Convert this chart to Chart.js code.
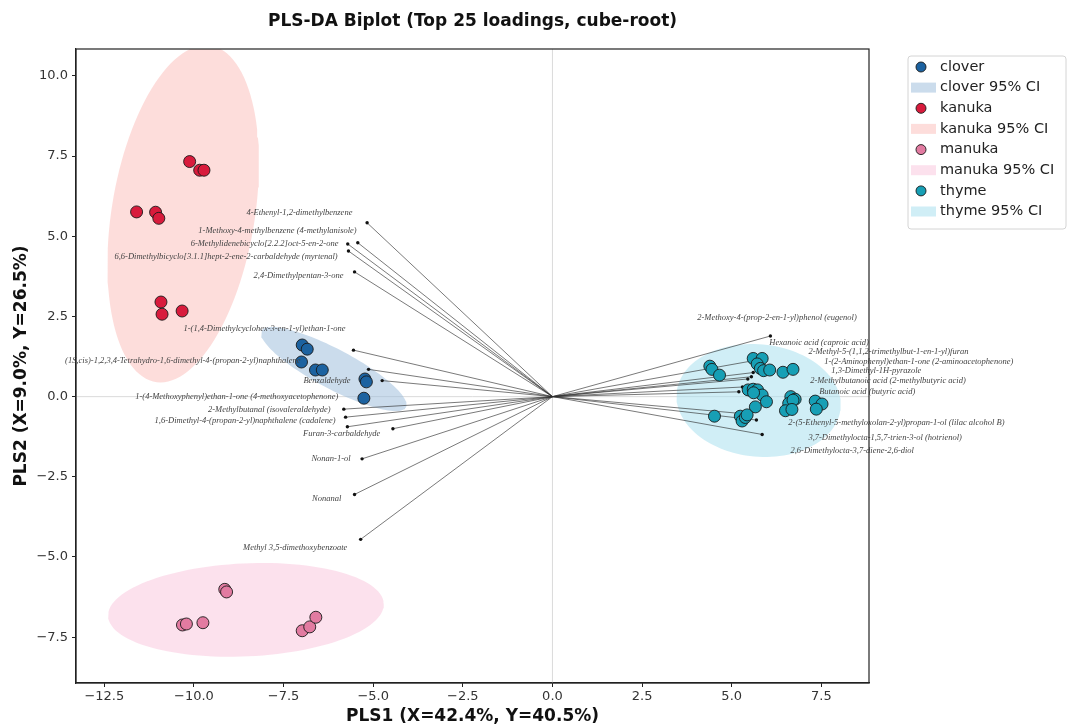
<!DOCTYPE html>
<html>
<head>
<meta charset="utf-8">
<script src="https://cdn.jsdelivr.net/npm/chart.js@4.4.1/dist/chart.umd.min.js"></script>
<style>
  html, body { margin: 0; padding: 0; background: #fff; }
  #wrap { width: 1071px; height: 728px; }
</style>
</head>
<body>
<div id="wrap"><canvas id="chart" width="1071" height="728"></canvas></div>
<script>
// sample scores (PLS1, PLS2)
const groups = ['clover', 'kanuka', 'manuka', 'thyme'];
const cloverX = [-6.98, -6.84, -7.00, -6.61, -6.42, -5.23, -5.19, -5.26];
const cloverY = [1.61, 1.48, 1.08, 0.83, 0.83, 0.55, 0.46, -0.05];
const kanukaX = [-10.12, -9.84, -9.72, -11.60, -11.07, -10.98, -10.92, -10.89, -10.33];
const kanukaY = [7.33, 7.06, 7.06, 5.76, 5.75, 5.56, 2.95, 2.57, 2.67];
const manukaX = [-9.14, -9.09, -10.32, -10.21, -9.75, -6.98, -6.77, -6.60];
const manukaY = [-6.01, -6.09, -7.12, -7.09, -7.05, -7.30, -7.18, -6.88];
const thymeX = [4.39, 4.45, 4.66, 5.60, 5.85, 5.71, 5.80, 5.89, 6.06, 6.43, 6.71, 5.46, 5.60, 5.72, 5.85, 5.97,
  5.61, 5.66, 6.65, 6.77, 6.59, 6.71, 6.50, 6.68, 7.33, 7.52, 7.36, 4.52, 5.24, 5.29, 5.38, 5.43];
const thymeY = [0.95, 0.85, 0.67, 1.19, 1.19, 1.02, 0.88, 0.81, 0.83, 0.76, 0.85, 0.21, 0.23, 0.21, 0.05, -0.16,
  0.12, -0.32, 0.00, -0.08, -0.21, -0.11, -0.44, -0.40, -0.14, -0.23, -0.39, -0.61, -0.61, -0.76, -0.65, -0.57];

// 95% CI ellipses (center, semi axes, angle in degrees) per group
const ellipseCX = [-6.10, -10.30, -8.55, 5.75];
const ellipseCY = [0.86, 5.70, -6.65, -0.12];
const ellipseA = [2.34, 5.30, 3.85, 2.30];
const ellipseB = [0.60, 2.00, 1.45, 1.75];
const ellipseAngle = [-31, 82, 3, -8];

// top 25 loadings (cube-root scaled)
const loadingNames = [
  '4-Ethenyl-1,2-dimethylbenzene',
  '1-Methoxy-4-methylbenzene (4-methylanisole)',
  '6-Methylidenebicyclo[2.2.2]oct-5-en-2-one',
  '6,6-Dimethylbicyclo[3.1.1]hept-2-ene-2-carbaldehyde (myrtenal)',
  '2,4-Dimethylpentan-3-one',
  '1-(1,4-Dimethylcyclohex-3-en-1-yl)ethan-1-one',
  '(1S,cis)-1,2,3,4-Tetrahydro-1,6-dimethyl-4-(propan-2-yl)naphthalene',
  'Benzaldehyde',
  '1-(4-Methoxyphenyl)ethan-1-one (4-methoxyacetophenone)',
  '2-Methylbutanal (isovaleraldehyde)',
  '1,6-Dimethyl-4-(propan-2-yl)naphthalene (cadalene)',
  'Furan-3-carbaldehyde',
  'Nonan-1-ol',
  'Nonanal',
  'Methyl 3,5-dimethoxybenzoate',
  '2-Methoxy-4-(prop-2-en-1-yl)phenol (eugenol)',
  'Hexanoic acid (caproic acid)',
  '2-Methyl-5-(1,1,2-trimethylbut-1-en-1-yl)furan',
  '1-(2-Aminophenyl)ethan-1-one (2-aminoacetophenone)',
  '1,3-Dimethyl-1H-pyrazole',
  '2-Methylbutanoic acid (2-methylbutyric acid)',
  'Butanoic acid (butyric acid)',
  '2-(5-Ethenyl-5-methyloxolan-2-yl)propan-1-ol (lilac alcohol B)',
  '3,7-Dimethylocta-1,5,7-trien-3-ol (hotrienol)',
  '2,6-Dimethylocta-3,7-diene-2,6-diol'
];
const loadingX = [-5.17, -5.43, -5.71, -5.69, -5.52, -5.55, -5.13, -4.75, -5.82, -5.77, -5.72, -4.45, -5.31, -5.52, -5.35,
  6.08, 5.75, 5.60, 5.55, 5.45, 5.30, 5.20, 5.69, 5.50, 5.85];
const loadingY = [5.42, 4.80, 4.76, 4.54, 3.89, 1.45, 0.85, 0.50, -0.39, -0.64, -0.94, -1.00, -1.94, -3.05, -4.45,
  1.89, 1.15, 0.75, 0.62, 0.55, 0.30, 0.15, -0.73, -0.55, -1.18];
// where each label text sits (edge nearest the arrow)
const labelX = [-5.58, -5.46, -5.97, -5.99, -5.83, -5.77, -7.03, -5.63, -5.97, -6.19, -6.05, -4.80, -5.63, -5.89, -5.72,
  4.04, 6.05, 7.14, 7.58, 7.78, 7.19, 7.44, 6.58, 7.14, 6.64];
const labelY = [5.73, 5.16, 4.76, 4.35, 3.76, 2.11, 1.11, 0.49, -0.01, -0.41, -0.75, -1.17, -1.94, -3.17, -4.70,
  2.45, 1.67, 1.39, 1.08, 0.80, 0.49, 0.14, -0.82, -1.29, -1.70];

const xTicks = [-12.5, -10, -7.5, -5, -2.5, 0, 2.5, 5, 7.5];
const yTicks = [-7.5, -5, -2.5, 0, 2.5, 5, 7.5, 10];

const pointColors = ['#1c62a0', '#d81b3c', '#e27ba1', '#179fb5'];
const ciColors = ['rgba(160,192,220,0.55)', 'rgba(250,180,175,0.45)', 'rgba(250,200,222,0.55)', 'rgba(170,224,238,0.55)'];

const groupX = [cloverX, kanukaX, manukaX, thymeX];
const groupY = [cloverY, kanukaY, manukaY, thymeY];

function ellipsePoints(g) {
  const pts = [];
  const th = ellipseAngle[g] * Math.PI / 180;
  for (let k = 0; k <= 120; k++) {
    const t = k / 120 * Math.PI * 2;
    const ex = ellipseA[g] * Math.cos(t), ey = ellipseB[g] * Math.sin(t);
    pts.push({ x: ellipseCX[g] + ex * Math.cos(th) - ey * Math.sin(th),
               y: ellipseCY[g] + ex * Math.sin(th) + ey * Math.cos(th) });
  }
  return pts;
}

const datasets = [];
groups.forEach((g, i) => {
  datasets.push({
    type: 'scatter', label: g,
    data: groupX[i].map((x, j) => ({ x: x, y: groupY[i][j] })),
    backgroundColor: pointColors[i], borderColor: '#1a1a1a', borderWidth: 0.9,
    pointRadius: 6, order: 0
  });
});
loadingNames.forEach((n, i) => {
  datasets.push({
    type: 'line', label: n,
    data: [{ x: 0, y: 0 }, { x: loadingX[i], y: loadingY[i] }],
    borderColor: 'rgba(45,45,45,0.8)', borderWidth: 0.8,
    pointRadius: [0, 1.7], pointBackgroundColor: '#111', pointBorderWidth: 0,
    order: 1
  });
});
groups.forEach((g, i) => {
  datasets.push({
    type: 'line', label: g + ' 95% CI',
    data: ellipsePoints(i),
    fill: 'shape', backgroundColor: ciColors[i], borderWidth: 0,
    pointRadius: 0, tension: 0, order: 2
  });
});

const fmt = v => (v < 0 ? '\u2212' : '') + Math.abs(v).toFixed(1);

const extras = {
  id: 'extras',
  beforeDatasetsDraw(chart) {
    const { ctx, chartArea: a, scales: { x, y } } = chart;
    ctx.save();
    ctx.strokeStyle = '#d0d0d0';
    ctx.lineWidth = 0.8;
    ctx.beginPath();
    ctx.moveTo(x.getPixelForValue(0), a.top); ctx.lineTo(x.getPixelForValue(0), a.bottom);
    ctx.moveTo(a.left, y.getPixelForValue(0)); ctx.lineTo(a.right, y.getPixelForValue(0));
    ctx.stroke();
    ctx.restore();
  },
  afterDatasetsDraw(chart) {
    const { ctx, scales: { x, y } } = chart;
    ctx.save();
    ctx.font = 'italic 8.5px "Liberation Serif"';
    ctx.fillStyle = '#444';
    ctx.textBaseline = 'middle';
    loadingNames.forEach((n, i) => {
      ctx.textAlign = loadingX[i] < 0 ? 'right' : 'left';
      ctx.fillText(n, x.getPixelForValue(labelX[i]), y.getPixelForValue(labelY[i]));
    });
    ctx.restore();
  },
  afterDraw(chart) {
    const { ctx, chartArea: a } = chart;
    ctx.save();
    // frame
    ctx.strokeStyle = '#222';
    ctx.lineWidth = 1.2;
    ctx.strokeRect(a.left, a.top, a.right - a.left, a.bottom - a.top);
    // titles
    ctx.fillStyle = '#111';
    ctx.textAlign = 'center';
    ctx.textBaseline = 'middle';
    ctx.font = 'bold 17px "DejaVu Sans"';
    ctx.fillText('PLS-DA Biplot (Top 25 loadings, cube-root)', (a.left + a.right) / 2, 22);
    ctx.fillText('PLS1 (X=42.4%, Y=40.5%)', (a.left + a.right) / 2, 717);
    ctx.translate(22, (a.top + a.bottom) / 2);
    ctx.rotate(-Math.PI / 2);
    ctx.fillText('PLS2 (X=9.0%, Y=26.5%)', 0, 0);
    ctx.restore();

    // legend
    ctx.save();
    const lx = 908, ly = 56, lw = 158, lh = 173;
    ctx.fillStyle = 'rgba(255,255,255,0.9)';
    ctx.strokeStyle = '#d4d4d4';
    ctx.lineWidth = 1;
    ctx.beginPath();
    ctx.roundRect(lx, ly, lw, lh, 3);
    ctx.fill(); ctx.stroke();
    ctx.font = '14.5px "DejaVu Sans"';
    ctx.textAlign = 'left';
    ctx.textBaseline = 'middle';
    groups.forEach((g, i) => {
      const r1 = 67 + i * 41.3, r2 = r1 + 20.6;
      ctx.beginPath();
      ctx.arc(921, r1, 5, 0, Math.PI * 2);
      ctx.fillStyle = pointColors[i]; ctx.fill();
      ctx.strokeStyle = '#1a1a1a'; ctx.lineWidth = 0.9; ctx.stroke();
      ctx.fillStyle = ciColors[i];
      ctx.fillRect(911, r2 - 5, 25, 10);
      ctx.fillStyle = '#222';
      ctx.fillText(g, 940, r1);
      ctx.fillText(g + ' 95% CI', 940, r2);
    });
    ctx.restore();
  }
};

new Chart(document.getElementById('chart'), {
  type: 'scatter',
  data: { datasets: datasets },
  plugins: [extras],
  options: {
    responsive: false,
    animation: false,
    devicePixelRatio: 1,
    layout: { padding: { top: 49, right: 202, left: 0, bottom: 0 } },
    plugins: { legend: { display: false }, tooltip: { enabled: false }, title: { display: false } },
    scales: {
      x: {
        type: 'linear', min: -13.29, max: 8.83,
        afterBuildTicks: s => { s.ticks = xTicks.map(v => ({ value: v })); },
        afterFit: s => { s.height = 45; },
        ticks: { callback: v => fmt(v), font: { family: 'DejaVu Sans', size: 13 }, color: '#333', padding: 2, maxRotation: 0, autoSkip: false },
        grid: { drawOnChartArea: false, tickLength: 4, color: '#222' },
        border: { color: '#222', width: 1.2 }
      },
      y: {
        type: 'linear', min: -8.93, max: 10.84,
        afterBuildTicks: s => { s.ticks = yTicks.map(v => ({ value: v })); },
        afterFit: s => { s.width = 76; },
        ticks: { callback: v => fmt(v), font: { family: 'DejaVu Sans', size: 13 }, color: '#333', padding: 4, autoSkip: false },
        grid: { drawOnChartArea: false, tickLength: 4, color: '#222' },
        border: { color: '#222', width: 1.2 }
      }
    }
  }
});
</script>
</body>
</html>
